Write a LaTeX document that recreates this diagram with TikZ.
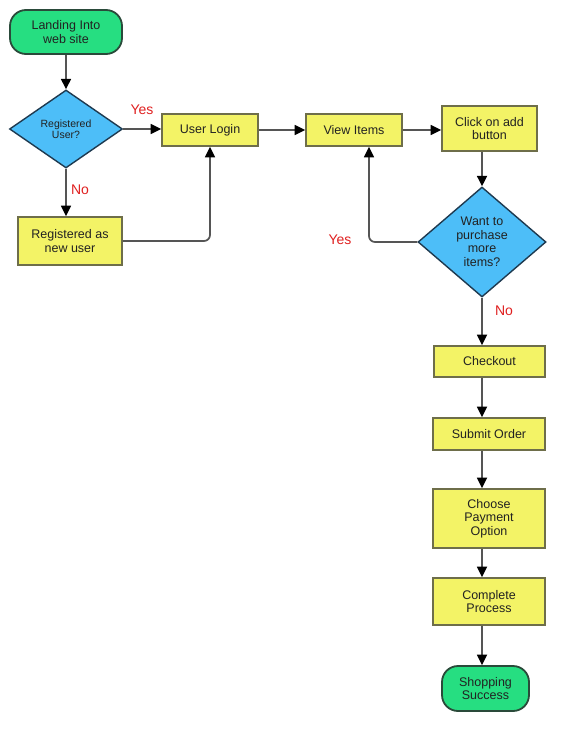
\documentclass[tikz,border=0pt]{standalone}
\usepackage{fontspec}
\setmainfont{Liberation Sans}
\usetikzlibrary{shapes.geometric,arrows.meta,calc}
\definecolor{termfill}{HTML}{26DE81}
\definecolor{termdraw}{HTML}{2A4A3A}
\definecolor{decfill}{HTML}{4DBEF8}
\definecolor{decdraw}{HTML}{1E3A50}
\definecolor{boxfill}{HTML}{F3F366}
\definecolor{boxdraw}{HTML}{6E6E4A}
\definecolor{linecol}{HTML}{555555}
\definecolor{txtcol}{HTML}{222222}
\definecolor{lblcol}{HTML}{E02020}
\tikzset{
  base/.style={align=center, text=txtcol, font=\fontsize{12.5}{13.5}\selectfont, inner sep=0pt, line width=1.8pt},
  term/.style={base, rectangle, rounded corners=16pt, fill=termfill, draw=termdraw},
  decision/.style={base, diamond, fill=decfill, draw=decdraw, line width=1.4pt},
  procbox/.style={base, rectangle, fill=boxfill, draw=boxdraw},
  conn/.style={draw=linecol, line width=1.7pt, -{Triangle[length=10.5pt,width=10pt,color=black]}},
  lbl/.style={text=lblcol, font=\fontsize{14}{14}\selectfont}
}
\begin{document}
\begin{tikzpicture}[x=1pt,y=-1pt]
\useasboundingbox (0,0) rectangle (586,751);
\fill[white] (0,0) rectangle (586,751);

\node[term, minimum width=112pt, minimum height=44pt] (land) at (66,32) {Landing Into\\web site};
\node[decision, minimum width=113pt, minimum height=78pt, font=\fontsize{10.5}{11.5}\selectfont] (reg) at (66,129) {Registered\\User?};
\node[procbox, minimum width=96pt, minimum height=32pt] (login) at (210,130) {User Login};
\node[procbox, minimum width=104pt, minimum height=48pt] (newu) at (70,241) {Registered as\\new user};
\node[procbox, minimum width=96pt, minimum height=32pt] (view) at (354,130) {View Items};
\node[procbox, minimum width=95pt, minimum height=45pt] (click) at (489.5,128.5) {Click on add\\button};
\node[decision, minimum width=128pt, minimum height=110pt] (want) at (482,242) {Want to\\purchase\\more\\items?};
\node[procbox, minimum width=111pt, minimum height=31pt] (chk) at (489.5,361.5) {Checkout};
\node[procbox, minimum width=112pt, minimum height=32pt] (sub) at (489,434) {Submit Order};
\node[procbox, minimum width=112pt, minimum height=59pt] (pay) at (489,518.5) {Choose\\Payment\\Option};
\node[procbox, minimum width=112pt, minimum height=47pt] (comp) at (489,601.5) {Complete\\Process};
\node[term, minimum width=87pt, minimum height=45pt] (succ) at (485.5,688.5) {Shopping\\Success};

\coordinate (col) at (482,0);

\draw[conn] (land.south) -- (reg.north);
\draw[conn] (reg.east) -- (reg.east -| login.west);
\draw[conn] (reg.south) -- (reg.south |- newu.north);
\draw[conn, rounded corners=6pt] (newu.east) -| (login.south);
\draw[conn] (login.east) -- (login.east -| view.west);
\draw[conn] (view.east) -- (view.east -| click.west);
\draw[conn] (col |- click.south) -- (want.north);
\draw[conn, rounded corners=6pt] (want.west) -| ([xshift=15pt]view.south);
\draw[conn] (want.south) -- (col |- chk.north);
\draw[conn] (col |- chk.south) -- (col |- sub.north);
\draw[conn] (col |- sub.south) -- (col |- pay.north);
\draw[conn] (col |- pay.south) -- (col |- comp.north);
\draw[conn] (col |- comp.south) -- (col |- succ.north);

\node[lbl] (yes1) at (142,110) {Yes};
\node[lbl] (no1) at (80,190) {No};
\node[lbl] (yes2) at (340,240) {Yes};
\node[lbl] (no2) at (504,311) {No};
\end{tikzpicture}
\end{document}
